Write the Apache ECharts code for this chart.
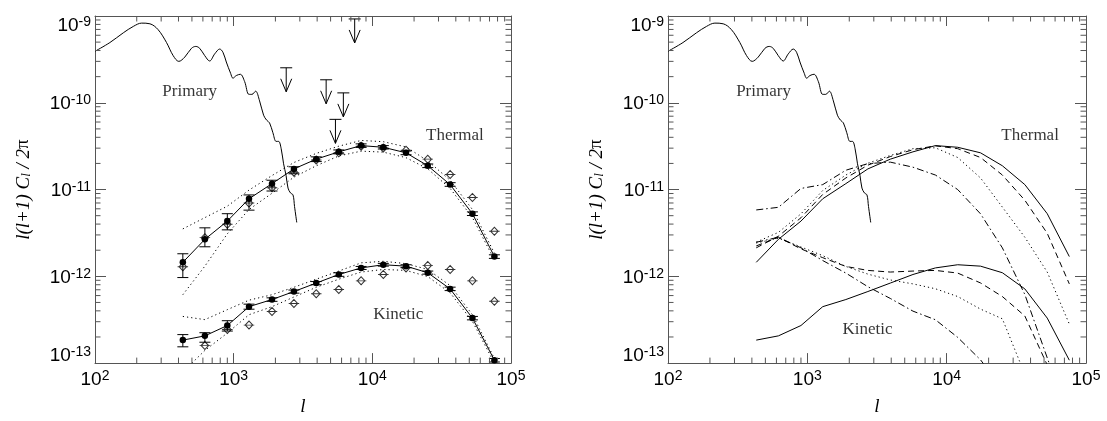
<!DOCTYPE html>
<html><head><meta charset="utf-8">
<script src="https://cdn.jsdelivr.net/npm/echarts@6/dist/echarts.min.js"></script>
<style>html,body{margin:0;padding:0;background:#fff}#c{width:1107px;height:421px}</style>
</head><body><div id="c"></div>
<script>
// ---------- data ----------
const lBins = [430, 620, 900, 1290, 1890, 2720, 3940, 5730, 8300, 12000, 17500, 25100, 36400, 52700, 75900];

const primaryL = [100,128,160,189,217,249,285,328,366,402,444,496,533,569,618,671,730,793,837,885,951,988,1045,1117,1199,1288,1355,1439,1538,1644,1727,1815,1918,2023,2109,2198,2291,2388,2466,2570,2679,2748,2851];
const primaryC = [3.92e-10,4.94e-10,6.40e-10,7.59e-10,8.28e-10,8.13e-10,6.97e-10,4.94e-10,3.50e-10,3.00e-10,3.36e-10,4.24e-10,4.46e-10,4.24e-10,3.50e-10,3.03e-10,3.66e-10,4.16e-10,3.82e-10,2.95e-10,2.18e-10,1.92e-10,2.06e-10,2.13e-10,1.76e-10,1.25e-10,1.25e-10,1.36e-10,1.05e-10,7.19e-11,6.32e-11,5.86e-11,4.52e-11,3.59e-11,3.59e-11,2.99e-11,1.98e-11,1.45e-11,1.04e-11,9.14e-12,8.67e-12,6.37e-12,4.18e-12];

// left panel: thermal
const thermalC     = [1.45e-12,2.67e-12,4.33e-12,7.83e-12,1.17e-11,1.73e-11,2.24e-11,2.72e-11,3.21e-11,3.07e-11,2.65e-11,1.88e-11,1.14e-11,5.27e-12,1.69e-12];
const thermalOpen  = [1.29e-12,2.79e-12,3.98e-12,7.00e-12,1.05e-11,1.58e-11,2.19e-11,2.66e-11,3.16e-11,3.02e-11,2.84e-11,2.24e-11,1.49e-11,8.09e-12,3.31e-12];
const thermalErrLo = [9.68e-13,2.19e-12,3.43e-12,5.79e-12,9.62e-12,1.52e-11,2.10e-11,2.58e-11,3.06e-11,2.93e-11,2.52e-11,1.79e-11,1.09e-11,5.02e-12,1.61e-12];
const thermalErrHi = [1.82e-12,3.62e-12,5.27e-12,8.67e-12,1.28e-11,1.83e-11,2.38e-11,2.86e-11,3.36e-11,3.21e-11,2.78e-11,1.97e-11,1.20e-11,5.53e-12,1.77e-12];
const thermalUp    = [3.52e-12,4.75e-12,6.43e-12,9.86e-12,1.45e-11,2.05e-11,2.61e-11,3.16e-11,3.68e-11,3.56e-11,3.10e-11,2.14e-11,1.28e-11,5.89e-12,1.85e-12];
const thermalLow   = [6.14e-13,1.31e-12,3.09e-12,5.89e-12,9.06e-12,1.39e-11,1.88e-11,2.44e-11,2.77e-11,2.70e-11,2.33e-11,1.73e-11,1.03e-11,4.75e-12,1.55e-12];

// left panel: kinetic
const kineticC     = [1.84e-13,2.06e-13,2.71e-13,4.47e-13,5.40e-13,6.68e-13,8.36e-13,1.05e-12,1.25e-12,1.36e-12,1.31e-12,1.10e-12,7.16e-13,3.30e-13,1.08e-13];
const kineticOpen  = [null,1.59e-13,2.44e-13,2.74e-13,3.93e-13,4.86e-13,6.30e-13,7.05e-13,8.87e-13,1.05e-12,1.25e-12,1.33e-12,1.20e-12,8.87e-13,5.16e-13];
const kineticErrLo = [1.54e-13,1.74e-13,2.34e-13,4.18e-13,5.15e-13,6.40e-13,8.00e-13,1.00e-12,1.20e-12,1.31e-12,1.26e-12,1.06e-12,6.85e-13,3.15e-13,1.03e-13];
const kineticErrHi = [2.13e-13,2.24e-13,3.08e-13,4.78e-13,5.65e-13,6.95e-13,8.70e-13,1.10e-12,1.30e-12,1.41e-12,1.36e-12,1.15e-12,7.50e-13,3.45e-13,1.13e-13];
const kineticUp    = [3.45e-13,3.17e-13,4.13e-13,5.31e-13,6.14e-13,7.48e-13,9.27e-13,1.15e-12,1.43e-12,1.49e-12,1.40e-12,1.20e-12,7.82e-13,3.61e-13,1.13e-13];
const kineticLow   = [7.9e-14,1.40e-13,2.22e-13,3.61e-13,4.47e-13,5.78e-13,7.48e-13,9.27e-13,1.12e-12,1.20e-12,1.17e-12,9.93e-13,6.46e-13,3.03e-13,1.00e-13];

// left panel: upper limits
const limitL = [2393, 4645, 5420, 6180, 7460];
const limitC = [2.53e-10, 1.84e-10, 6.44e-11, 1.30e-10, 9.25e-10];

// right panel: model variants
const thermalDashed  = [2.13e-12,2.90e-12,4.73e-12,8.79e-12,1.36e-11,1.91e-11,2.40e-11,2.88e-11,3.19e-11,2.96e-11,2.34e-11,1.47e-11,7.53e-12,3.13e-12,8.18e-13];
const thermalDotted  = [2.48e-12,3.21e-12,5.25e-12,9.75e-12,1.47e-11,2.01e-11,2.47e-11,2.96e-11,3.03e-11,2.34e-11,1.36e-11,6.28e-12,2.82e-12,1.12e-12,2.82e-13];
const thermalDashDot = [5.82e-12,6.24e-12,1.03e-11,1.14e-11,1.67e-11,1.99e-11,2.07e-11,1.81e-11,1.47e-11,1.00e-11,5.25e-12,2.13e-12,6.17e-13,1.15e-13,2.3e-14];
const kineticDashed  = [2.24e-12,2.82e-12,2.07e-12,1.64e-12,1.30e-12,1.17e-12,1.12e-12,1.15e-12,1.17e-12,1.09e-12,8.39e-13,5.85e-13,3.49e-13,9.5e-14,null];
const kineticDotted  = [2.42e-12,2.75e-12,2.18e-12,1.73e-12,1.30e-12,1.06e-12,9.08e-13,8.18e-13,7.19e-13,5.85e-13,4.19e-13,3.24e-13,7.43e-14,null,null];
const kineticDashDot = [2.47e-12,2.82e-12,2.13e-12,1.52e-12,1.09e-12,7.59e-13,5.56e-13,3.97e-13,3.16e-13,1.98e-13,1.09e-13,5.05e-14,null,null,null];

// annotations [l, value, text]
const leftNotes  = [[482, 1.35e-10, 'Primary'], [39400, 4.2e-11, 'Thermal'], [15400, 3.6e-13, 'Kinetic']];
const rightNotes = [[485, 1.33e-10, 'Primary'], [39700, 4.15e-11, 'Thermal'], [2700, 2.45e-13, 'Kinetic']];

// axis ranges and minor tick values
const xRange = [1e2, 1e5];
const yRange = [1e-13, 1e-9];
const xMinorTicks = [200,300,400,500,600,700,800,900,2000,3000,4000,5000,6000,7000,8000,9000,20000,30000,40000,50000,60000,70000,80000,90000];
const yMinorTicks = [2e-13,3e-13,4e-13,5e-13,6e-13,7e-13,8e-13,9e-13,2e-12,3e-12,4e-12,5e-12,6e-12,7e-12,8e-12,9e-12,2e-11,3e-11,4e-11,5e-11,6e-11,7e-11,8e-11,9e-11,2e-10,3e-10,4e-10,5e-10,6e-10,7e-10,8e-10,9e-10];

// ---------- chart ----------
const AX = '#555';
const zip = (xs, ys) => xs.map((x, i) => [x, ys[i]]);
const pairs = (ys) => lBins.map((x, i) => [x, ys[i]]);

const SANS = 'Liberation Sans';
const SERIF = 'Liberation Serif';
const labRich = {
  b:  {fontFamily: SANS, fontSize: 19, lineHeight: 19, color: '#000', padding: [5, 0, 3, 0]},
  s:  {fontFamily: SANS, fontSize: 14, lineHeight: 14, color: '#000', verticalAlign: 'top'},
  gT: {fontSize: 10, lineHeight: 17, color: 'rgba(0,0,0,0)'},
  gB: {fontSize: 10, lineHeight: 17, color: 'rgba(0,0,0,0)'}
};
const expOf = v => Math.round(Math.log10(v));
const xFmt = v => '{b|10}{s|' + expOf(v) + '}';
const yFmt = v => {
  const e = expOf(v);
  const core = '{b|10}{s|' + e + '}';
  if (e === -9) return '{gT| }\n' + core;
  if (e === -13) return core + '\n{gB| }';
  return core;
};
const nameRich = {
  i:   {fontFamily: SERIF, fontStyle: 'italic', fontSize: 19, color: '#000'},
  sub: {fontFamily: SERIF, fontStyle: 'italic', fontSize: 13, color: '#000', verticalAlign: 'bottom', padding: [6, 0, 0, 0]},
  n:   {fontFamily: SERIF, fontSize: 19, color: '#000'}
};

function xAxes(g) {
  const common = {gridIndex: g, type: 'log', logBase: 10, min: xRange[0], max: xRange[1],
    axisLine: {show: true, lineStyle: {color: AX, width: 1}},
    axisTick: {show: true, inside: true, length: 10, lineStyle: {color: AX, width: 1}},
    splitLine: {show: false}, minorTick: {show: false}};
  return [
    Object.assign({}, common, {position: 'bottom',
      axisLabel: {show: true, margin: 6, formatter: xFmt, rich: labRich},
      name: 'l', nameLocation: 'middle', nameGap: 21,
      nameTextStyle: {fontFamily: SERIF, fontStyle: 'italic', fontSize: 19, color: '#000'}}),
    Object.assign({}, common, {position: 'top', axisLabel: {show: false}})
  ];
}
function yAxes(g) {
  const common = {gridIndex: g, type: 'log', logBase: 10, min: yRange[0], max: yRange[1],
    axisLine: {show: true, lineStyle: {color: AX, width: 1}},
    axisTick: {show: true, inside: true, length: 11, lineStyle: {color: AX, width: 1}},
    splitLine: {show: false}, minorTick: {show: false}};
  return [
    Object.assign({}, common, {position: 'left',
      axisLabel: {show: true, margin: 4, formatter: yFmt, rich: labRich},
      name: '{i|l(l+1) C}{sub|l}{i| / 2}{n|π}', nameLocation: 'middle', nameGap: 62, nameRotate: 90,
      nameTextStyle: {rich: nameRich}}),
    Object.assign({}, common, {position: 'right', axisLabel: {show: false}})
  ];
}

function minorTickSeries(g) {
  const st = {stroke: AX, lineWidth: 1};
  return [{
    type: 'custom', xAxisIndex: 2 * g, yAxisIndex: 2 * g, silent: true, z: 10,
    data: xMinorTicks.map(v => [v, 1e-11]),
    renderItem: (p, api) => {
      const v = api.value(0);
      const b = api.coord([v, yRange[0]]), t = api.coord([v, yRange[1]]);
      return {type: 'group', children: [
        {type: 'line', shape: {x1: b[0], y1: b[1], x2: b[0], y2: b[1] - 5.5}, style: st},
        {type: 'line', shape: {x1: t[0], y1: t[1], x2: t[0], y2: t[1] + 5.5}, style: st}]};
    }
  }, {
    type: 'custom', xAxisIndex: 2 * g, yAxisIndex: 2 * g, silent: true, z: 10,
    data: yMinorTicks.map(v => [1e3, v]),
    renderItem: (p, api) => {
      const v = api.value(1);
      const l = api.coord([xRange[0], v]), r = api.coord([xRange[1], v]);
      return {type: 'group', children: [
        {type: 'line', shape: {x1: l[0], y1: l[1], x2: l[0] + 5.5, y2: l[1]}, style: st},
        {type: 'line', shape: {x1: r[0], y1: r[1], x2: r[0] - 5.5, y2: r[1]}, style: st}]};
    }
  }];
}

function lineS(g, data, type, z, extra) {
  return Object.assign({
    type: 'line', xAxisIndex: 2 * g, yAxisIndex: 2 * g, data: data, showSymbol: false, symbol: 'none',
    silent: true, animation: false, z: z || 3, connectNulls: false,
    lineStyle: {color: '#000', width: 1, type: type || 'solid'}
  }, extra || {});
}

function noteS(g, notes) {
  return {
    type: 'scatter', xAxisIndex: 2 * g, yAxisIndex: 2 * g, silent: true, symbolSize: 1,
    itemStyle: {color: 'rgba(0,0,0,0)'},
    data: notes.map(n => ({value: [n[0], n[1]], name: n[2]})),
    label: {show: true, position: 'inside', formatter: p => p.name,
      fontFamily: SERIF, fontSize: 17, color: '#000'}
  };
}

function errS(lo, hi) {
  return {
    type: 'custom', xAxisIndex: 0, yAxisIndex: 0, silent: true, z: 6,
    data: lBins.map((x, i) => [x, lo[i], hi[i]]),
    encode: {x: 0, y: [1, 2]},
    renderItem: (p, api) => {
      const a = api.coord([api.value(0), api.value(1)]);
      const b = api.coord([api.value(0), api.value(2)]);
      const st = {stroke: '#000', lineWidth: 1};
      return {type: 'group', children: [
        {type: 'line', shape: {x1: a[0], y1: a[1], x2: b[0], y2: b[1]}, style: st},
        {type: 'line', shape: {x1: a[0] - 5.5, y1: a[1], x2: a[0] + 5.5, y2: a[1]}, style: st},
        {type: 'line', shape: {x1: b[0] - 5.5, y1: b[1], x2: b[0] + 5.5, y2: b[1]}, style: st}]};
    }
  };
}

const diamondPath = 'path://M-2,5 L12,5 M5,0 L10,5 L5,10 L0,5 Z';
function openS(vals) {
  return {
    type: 'scatter', xAxisIndex: 0, yAxisIndex: 0, silent: true, z: 4,
    data: pairs(vals).filter(d => d[1] != null),
    symbol: diamondPath, symbolSize: [10.5, 8],
    itemStyle: {color: '#fff', borderColor: '#000', borderWidth: 1}
  };
}

const limitSeries = {
  type: 'custom', xAxisIndex: 0, yAxisIndex: 0, silent: true, z: 6,
  data: zip(limitL, limitC),
  renderItem: (p, api) => {
    const c = api.coord([api.value(0), api.value(1)]);
    const st = {stroke: '#000', lineWidth: 1, fill: 'none'};
    return {type: 'group', children: [
      {type: 'line', shape: {x1: c[0] - 6, y1: c[1], x2: c[0] + 6, y2: c[1]}, style: st},
      {type: 'line', shape: {x1: c[0], y1: c[1], x2: c[0], y2: c[1] + 24}, style: st},
      {type: 'polyline', shape: {points: [[c[0] - 5.5, c[1] + 11], [c[0], c[1] + 24], [c[0] + 5.5, c[1] + 11]]}, style: st}]};
  }
};

const DOT = [1.2, 3];
const DASH = [6, 4];
const DASHDOT = [7, 3, 1.5, 3];

const option = {
  animation: false,
  backgroundColor: '#fff',
  grid: [
    {left: 95, top: 16, width: 416, height: 357, containLabel: false},
    {left: 668, top: 16, width: 418, height: 357, containLabel: false}
  ],
  xAxis: xAxes(0).concat(xAxes(1)),
  yAxis: yAxes(0).concat(yAxes(1)),
  series: [
    ...minorTickSeries(0), ...minorTickSeries(1),
    // left panel
    lineS(0, zip(primaryL, primaryC), 'solid', 3, {smooth: 0.35}),
    lineS(0, pairs(thermalUp), DOT, 2),
    lineS(0, pairs(thermalLow), DOT, 2),
    lineS(0, pairs(kineticUp), DOT, 2),
    lineS(0, pairs(kineticLow), DOT, 2),
    openS(thermalOpen),
    openS(kineticOpen),
    errS(thermalErrLo, thermalErrHi),
    errS(kineticErrLo, kineticErrHi),
    lineS(0, pairs(thermalC), 'solid', 5, {showSymbol: true, symbol: 'circle', symbolSize: 6.5, itemStyle: {color: '#000'}}),
    lineS(0, pairs(kineticC), 'solid', 5, {showSymbol: true, symbol: 'circle', symbolSize: 6.5, itemStyle: {color: '#000'}}),
    limitSeries,
    noteS(0, leftNotes),
    // right panel
    lineS(1, zip(primaryL, primaryC), 'solid', 3, {smooth: 0.35}),
    lineS(1, pairs(thermalC), 'solid'),
    lineS(1, pairs(thermalDashed), DASH),
    lineS(1, pairs(thermalDotted), DOT),
    lineS(1, pairs(thermalDashDot), DASHDOT),
    lineS(1, pairs(kineticC), 'solid'),
    lineS(1, pairs(kineticDashed), DASH),
    lineS(1, pairs(kineticDotted), DOT),
    lineS(1, pairs(kineticDashDot), DASHDOT),
    noteS(1, rightNotes)
  ]
};
const chart = echarts.init(document.getElementById('c'), null, {renderer: 'canvas'});
chart.setOption(option);
</script></body></html>
